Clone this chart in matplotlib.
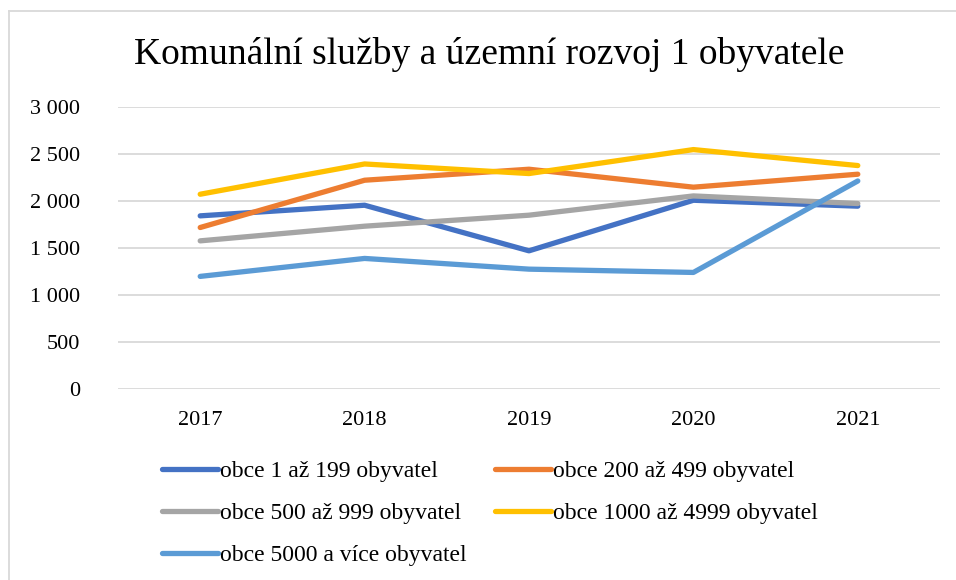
import matplotlib.pyplot as plt
from matplotlib.lines import Line2D
from matplotlib.ticker import FuncFormatter

years = ["2017", "2018", "2019", "2020", "2021"]
obce_1_199 = [1842, 1955, 1470, 2008, 1945]
obce_200_499 = [1718, 2221, 2338, 2147, 2285]
obce_500_999 = [1576, 1732, 1849, 2054, 1973]
obce_1000_4999 = [2072, 2394, 2292, 2547, 2377]
obce_5000_plus = [1198, 1389, 1275, 1240, 2213]

labels = ["obce 1 až 199 obyvatel", "obce 200 až 499 obyvatel",
          "obce 500 až 999 obyvatel", "obce 1000 až 4999 obyvatel",
          "obce 5000 a více obyvatel"]
colors = ["#4472C4", "#ED7D31", "#A5A5A5", "#FFC000", "#5B9BD5"]
series = [obce_1_199, obce_200_499, obce_500_999, obce_1000_4999, obce_5000_plus]

plt.rcParams['font.family'] = ['Liberation Serif', 'DejaVu Serif']

W, H = 956, 580
fig = plt.figure(figsize=(W / 100, H / 100), dpi=100)
ax = fig.add_axes([118 / W, 1 - 389 / H, (940 - 118) / W, (389 - 107) / H])

x = range(len(years))
handles = []
for vals, lab, col in zip(series, labels, colors):
    h, = ax.plot(x, vals, color=col, linewidth=3.8, label=lab,
                 solid_capstyle='round', solid_joinstyle='round')
    handles.append(h)

ax.set_xlim(-0.5, len(years) - 0.5)
ax.set_ylim(0, 3000)
ax.set_yticks(range(0, 3001, 500))
ax.yaxis.set_major_formatter(FuncFormatter(lambda v, p: f"{int(v):,}".replace(",", " ")))
ax.set_xticks(list(x))
ax.set_xticklabels(years)
ax.grid(axis='y', color='#D9D9D9', linewidth=1.3)
ax.set_axisbelow(True)
for s in ax.spines.values():
    s.set_visible(False)
ax.tick_params(length=0, labelsize=16, colors='black')
ax.tick_params(axis='y', pad=27)
ax.tick_params(axis='x', pad=16)

fig.text(489 / W, 1 - 55 / H, "Komunální služby a územní rozvoj 1 obyvatele",
         ha='center', va='center', fontsize=27)

# legend laid out in two columns, rows filled left to right
leg_kw = dict(frameon=False, fontsize=17, handlelength=2.37, handletextpad=0.08,
              labelspacing=0.87, borderaxespad=0, loc='upper left')
fig.legend([handles[i] for i in (0, 2, 4)], [labels[i] for i in (0, 2, 4)],
           bbox_to_anchor=(153 / W, 1 - 451 / H), **leg_kw)
fig.legend([handles[i] for i in (1, 3)], [labels[i] for i in (1, 3)],
           bbox_to_anchor=(486 / W, 1 - 451 / H), **leg_kw)

# outer chart frame
fig.add_artist(Line2D([9 / W, 1], [1 - 11 / H, 1 - 11 / H], color='#D9D9D9', lw=1.3))
fig.add_artist(Line2D([9 / W, 9 / W], [0, 1 - 11 / H], color='#D9D9D9', lw=1.3))

fig.savefig("out.png", dpi=100)
